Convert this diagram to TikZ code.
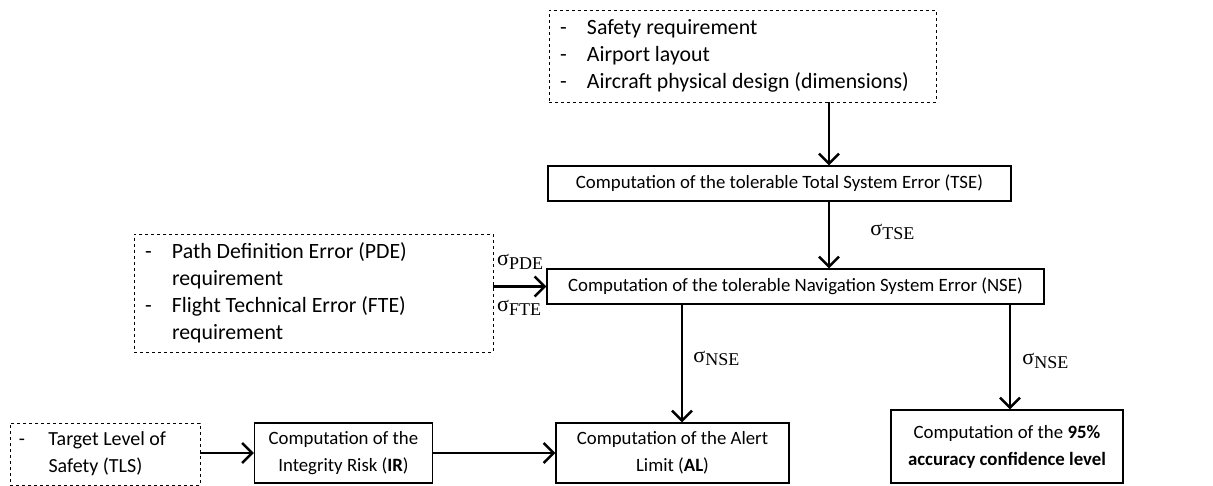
\documentclass[tikz,border=0pt]{standalone}
\usepackage{fontspec}
\setmainfont{Carlito}
\newfontfamily\sigfont{Liberation Serif}
\usetikzlibrary{arrows.meta,positioning}
\newcommand{\sig}[1]{{\sigfont\fontsize{22}{22}\selectfont σ\raisebox{-0.35ex}{\fontsize{18}{18}\selectfont #1}}}
\newcommand{\itm}[1][27pt]{\makebox[#1][l]{-}}
\newcommand{\ind}[1][27pt]{\hspace*{#1}}
\tikzset{
  calc/.style={draw, line width=1.1pt, align=center, inner sep=2pt,
               minimum width=#1, font=\fontsize{18.8}{27}\selectfont},
  input/.style={draw, dashed, line width=0.7pt, align=flush left, inner ysep=0pt, inner xsep=11pt,
                text width=#1-22pt, font=\fontsize{21.8}{27}\selectfont},
  arr/.style={-{Straight Barb[length=10pt,width=20pt,line width=2.6pt]}, line width=2.8pt},
  lbl/.style={inner sep=0pt, anchor=west},
}
\begin{document}
\begin{tikzpicture}[x=1pt, y=-1pt]
\useasboundingbox (0,0) rectangle (1213,486);
% inputs
\node[input=387, minimum height=92] (req) at (742.5,56)
  {\itm Safety requirement\\ \itm Airport layout\\ \itm Aircraft physical design (dimensions)};
\node[input=359, minimum height=118] (pde) at (313.5,293)
  {\itm Path Definition Error (PDE)\\ \ind requirement\\ \itm Flight Technical Error (FTE)\\ \ind requirement};
\node[input=194, minimum height=62, inner xsep=9pt, font=\fontsize{20}{27}\selectfont] (tls) at (105,454)
  {\itm[25pt] Target Level of\\ \ind[25pt] Safety (TLS)};

% computations
\node[calc=463, minimum height=35] (tse) at (779.5,183.5) {Computation of the tolerable Total System Error (TSE)};
\node[calc=497, minimum height=35] (nse) at (795.5,286.5) {Computation of the tolerable Navigation System Error (NSE)};
\node[calc=178, minimum height=60] (ir) at (343.5,453) {Computation of the\\ Integrity Risk (\textbf{IR})};
\node[calc=233, minimum height=60] (al) at (672.5,453) {Computation of the Alert\\ Limit (\textbf{AL})};
\node[calc=232, minimum height=73] (acc) at (1007,446.5) {Computation of the \textbf{95\%}\\ \textbf{accuracy confidence level}};

\coordinate (c1) at (829,0);
\coordinate (c2) at (682,0);
\coordinate (c3) at (1010,0);

\draw[arr] (req.south -| c1) -- (tse.north -| c1);
\draw[arr] (tse.south -| c1) -- node[lbl, xshift=40pt, yshift=3pt] {\sig{TSE}} (nse.north -| c1);
\draw[arr] (pde.east |- nse) -- (nse.west);
\draw[arr] (nse.south -| c2) -- node[lbl, xshift=10pt, yshift=5pt] {\sig{NSE}} (al.north -| c2);
\draw[arr] (nse.south -| c3) -- node[lbl, xshift=11pt, yshift=-4pt] {\sig{NSE}} (acc.north -| c3);
\draw[arr] (tls.east |- ir.west) -- (ir.west);
\draw[arr] (ir) -- (al);

\node[lbl] (spde) at (497,262) {\sig{PDE}};
\node[lbl] (sfte) at (497,308) {\sig{FTE}};
\end{tikzpicture}
\end{document}
